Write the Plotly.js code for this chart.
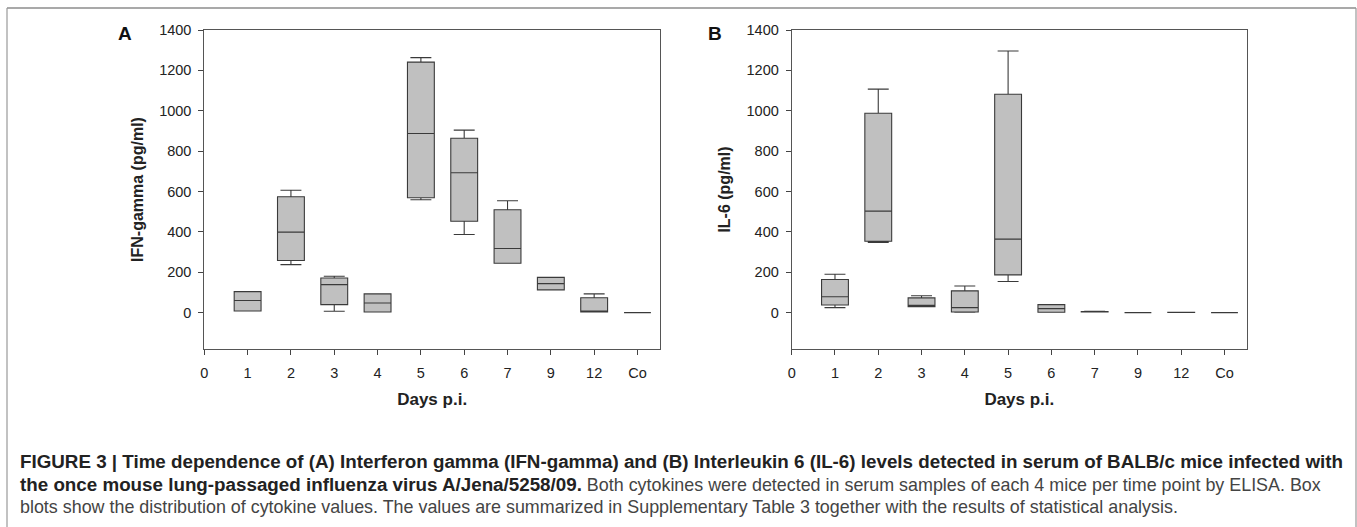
<!DOCTYPE html>
<html>
<head>
<meta charset="utf-8">
<script src="https://cdn.plot.ly/plotly-3.0.1.min.js"></script>
<style>
  html, body { margin: 0; padding: 0; background: #fff; }
  #chart { width: 1357px; height: 527px; }
</style>
</head>
<body>
<div id="chart"></div>
<script>
// ---- Data ----
const days = ['1', '2', '3', '4', '5', '6', '7', '9', '12', 'Co'];
const xTickLabels = ['0', '1', '2', '3', '4', '5', '6', '7', '9', '12', 'Co'];
const yTickValues = [0, 200, 400, 600, 800, 1000, 1200, 1400];

// Panel A: IFN-gamma (pg/ml)
const ifnLow  = [8, 238, 7, 3, 559, 387, 245, 113, 3, 0];
const ifnQ1   = [8, 258, 40, 3, 569, 453, 245, 113, 3, 0];
const ifnMed  = [60, 399, 139, 48, 887, 693, 318, 144, 5, 0];
const ifnQ3   = [104, 574, 172, 93, 1241, 864, 510, 175, 74, 0];
const ifnHigh = [104, 606, 180, 93, 1263, 904, 554, 175, 93, 0];

// Panel B: IL-6 (pg/ml)
const il6Low  = [25, 348, 30, 2, 154, 2, 3, 0, 1, 0];
const il6Q1   = [38, 354, 30, 3, 187, 2, 3, 0, 1, 0];
const il6Med  = [79, 503, 36, 25, 364, 20, 5, 0, 2, 0];
const il6Q3   = [164, 988, 73, 108, 1082, 40, 6, 0, 2, 0];
const il6High = [190, 1107, 84, 132, 1296, 40, 7, 0, 2, 0];

// ---- Styling ----
const W = 1357, H = 527;
const FONT = 'Liberation Sans, Arial, sans-serif';
const px = v => v / W;
const py = v => 1 - v / H;

function boxTrace(xa, ya, lo, q1, med, q3, hi) {
  return {
    type: 'box', xaxis: xa, yaxis: ya,
    x: days, lowerfence: lo, q1: q1, median: med, q3: q3, upperfence: hi,
    boxpoints: false, width: 0.62, whiskerwidth: 0.78,
    fillcolor: '#c0c0c0',
    line: { color: '#3a3a3a', width: 1.1 },
    hoverinfo: 'skip', showlegend: false
  };
}

function xAxis(domain, anchor) {
  return {
    domain: domain, anchor: anchor,
    type: 'category', categoryorder: 'array', categoryarray: xTickLabels,
    range: [0, 10.52],
    showgrid: false, zeroline: false,
    showline: true, linecolor: '#555', linewidth: 1, mirror: true,
    ticks: 'outside', ticklen: 5, tickcolor: '#444', tickwidth: 1,
    ticklabelstandoff: 6,
    tickfont: { family: FONT, size: 14.5, color: '#222' },
    title: { text: '<b>Days p.i.</b>', font: { family: FONT, size: 17, color: '#222' }, standoff: 12 }
  };
}

function yAxis(domain, anchor, title) {
  return {
    domain: domain, anchor: anchor,
    range: [-180, 1400],
    tickmode: 'array', tickvals: yTickValues,
    showgrid: false, zeroline: false,
    showline: true, linecolor: '#555', linewidth: 1, mirror: true,
    ticks: 'outside', ticklen: 5, tickcolor: '#444', tickwidth: 1,
    ticklabelstandoff: 4,
    tickfont: { family: FONT, size: 14.5, color: '#222' },
    title: { text: '<b>' + title + '</b>', font: { family: FONT, size: 16, color: '#222' }, standoff: 11 }
  };
}

const yDom = [py(349), py(30)];

const data = [
  boxTrace('x', 'y', ifnLow, ifnQ1, ifnMed, ifnQ3, ifnHigh),
  boxTrace('x2', 'y2', il6Low, il6Q1, il6Med, il6Q3, il6High)
];

const captionBold1 = 'FIGURE 3 | Time dependence of (A) Interferon gamma (IFN-gamma) and (B) Interleukin 6 (IL-6) levels detected in serum of BALB/c mice infected with';
const captionBold2 = 'the once mouse lung-passaged influenza virus A/Jena/5258/09.';
const captionReg2 = ' Both cytokines were detected in serum samples of each 4 mice per time point by ELISA. Box';
const captionReg3 = 'blots show the distribution of cytokine values. The values are summarized in Supplementary Table 3 together with the results of statistical analysis.';

const BOLD_SIZE = 18.8, REG_SIZE = 17.9;
const capFont = { family: FONT, size: REG_SIZE, color: '#444' };

const layout = {
  width: W, height: H,
  margin: { l: 0, r: 0, t: 0, b: 0 },
  paper_bgcolor: '#fff', plot_bgcolor: '#fff',
  showlegend: false,
  boxmode: 'overlay',
  xaxis: xAxis([px(204.3), px(660)], 'y'),
  yaxis: yAxis(yDom, 'x', 'IFN-gamma (pg/ml)'),
  xaxis2: xAxis([px(791.7), px(1247)], 'y2'),
  yaxis2: yAxis(yDom, 'x2', 'IL-6 (pg/ml)'),
  shapes: [
    { type: 'line', xref: 'paper', yref: 'paper', x0: px(7), x1: px(1356), y0: py(8), y1: py(8), line: { color: '#555', width: 1.2 } },
    { type: 'line', xref: 'paper', yref: 'paper', x0: px(7), x1: px(7), y0: py(8), y1: 0, line: { color: '#999', width: 1.2 } },
    { type: 'line', xref: 'paper', yref: 'paper', x0: px(1356), x1: px(1356), y0: py(8), y1: 0, line: { color: '#999', width: 1.2 } }
  ],
  annotations: [
    { text: '<b>A</b>', xref: 'paper', yref: 'paper', x: px(125), y: py(33), xanchor: 'center', yanchor: 'middle', showarrow: false, font: { family: FONT, size: 19, color: '#111' } },
    { text: '<b>B</b>', xref: 'paper', yref: 'paper', x: px(715), y: py(33), xanchor: 'center', yanchor: 'middle', showarrow: false, font: { family: FONT, size: 19, color: '#111' } },
    { text: '<b>' + captionBold1 + '</b>', xref: 'paper', yref: 'paper', x: px(18), y: py(461), xanchor: 'left', yanchor: 'middle', showarrow: false, font: { family: FONT, size: BOLD_SIZE, color: '#222' } },
    { text: '<span style="font-size:' + BOLD_SIZE + 'px;color:#222"><b>' + captionBold2 + '</b></span>' + captionReg2, xref: 'paper', yref: 'paper', x: px(18), y: py(484), xanchor: 'left', yanchor: 'middle', showarrow: false, font: capFont },
    { text: captionReg3, xref: 'paper', yref: 'paper', x: px(18), y: py(507), xanchor: 'left', yanchor: 'middle', showarrow: false, font: capFont }
  ]
};

Plotly.newPlot('chart', data, layout, { staticPlot: true, displayModeBar: false });
</script>
</body>
</html>
